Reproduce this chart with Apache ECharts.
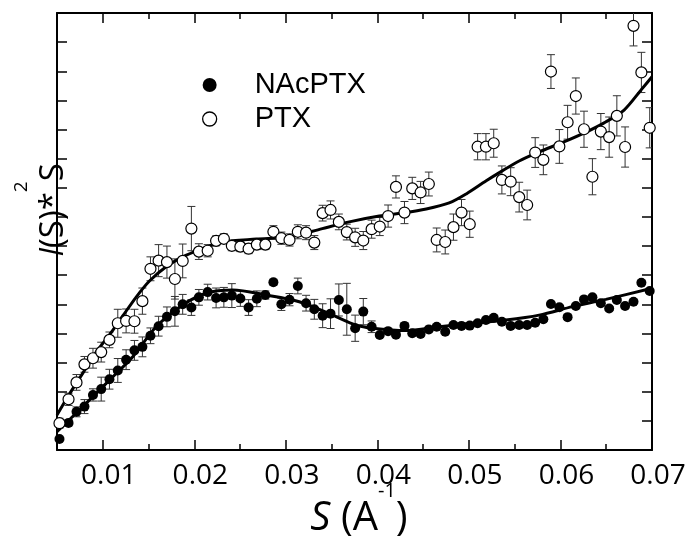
<!DOCTYPE html>
<html><head><meta charset="utf-8">
<script src="https://cdn.jsdelivr.net/npm/echarts@6/dist/echarts.min.js"></script>
<style>html,body{margin:0;padding:0;background:#fff}#c{width:696px;height:542px}</style>
</head><body><div id="c"></div>
<script>
// scattering vector S (1/Å), shared by both data sets
const sValues = [
0.00527,0.00626,0.00713,0.00800,0.00893,0.00983,0.01073,0.01164,0.01255,0.01346,
0.01433,0.01521,0.01610,0.01701,0.01788,0.01873,0.01968,0.02050,0.02146,0.02238,
0.02323,0.02410,0.02503,0.02593,0.02683,0.02776,0.02864,0.02951,0.03040,0.03131,
0.03221,0.03311,0.03402,0.03488,0.03579,0.03666,0.03757,0.03846,0.03937,0.04026,
0.04117,0.04203,0.04296,0.04381,0.04472,0.04562,0.04648,0.04741,0.04831,0.04919,
0.05009,0.05095,0.05186,0.05271,0.05360,0.05456,0.05549,0.05636,0.05724,0.05813,
0.05896,0.05988,0.06078,0.06168,0.06257,0.06349,0.06441,0.06532,0.06616,0.06706,
0.06798,0.06884,0.06975];

const nacY = [
0.38,0.93,1.31,1.49,1.89,2.09,2.43,2.73,3.10,3.42,
3.54,3.92,4.25,4.57,4.76,5.00,4.89,5.24,5.42,5.22,
5.24,5.30,5.20,4.89,5.19,5.32,5.76,5.00,5.16,5.63,
5.04,4.83,4.61,4.68,5.15,4.83,4.18,4.75,4.23,3.95,
4.08,3.96,4.26,4.01,3.98,4.14,4.23,4.06,4.29,4.26,
4.27,4.35,4.46,4.54,4.40,4.26,4.29,4.29,4.37,4.49,
5.01,4.90,4.56,4.94,5.17,5.24,5.04,4.86,5.15,4.94,
5.09,5.74,5.46];

const nacErr = [
0,0.10,0.17,0.24,0.21,0.41,0.34,0.41,0.34,0.34,
0.34,0.27,0.34,0.34,0.51,0.34,0.27,0.27,0.27,0.34,
0.34,0.41,0.27,0.27,0.27,0.14,0.10,0.21,0.21,0.27,
0.27,0.34,0.41,0.51,0.55,0.89,0.45,0.45,0.20,0.07,
0.07,0.07,0.07,0.07,0.07,0.07,0.07,0.07,0.07,0.07,
0.07,0.07,0.07,0.07,0.07,0.07,0.07,0.07,0.07,0.07,
0.07,0.07,0.07,0.07,0.07,0.07,0.07,0.07,0.07,0.07,
0.07,0.07,0.07];

const ptxY = [
0.92,1.74,2.32,2.94,3.15,3.36,3.78,4.35,4.43,4.42,
5.11,6.22,6.50,6.45,5.87,6.49,7.60,6.81,6.84,7.18,
7.25,7.01,6.98,6.91,7.05,7.05,7.49,7.27,7.21,7.49,
7.46,7.12,8.13,8.24,7.83,7.48,7.30,7.19,7.58,7.67,
8.03,9.03,8.15,8.98,8.84,9.13,7.21,7.14,7.65,8.15,
7.75,10.41,10.41,10.53,9.27,9.21,8.68,8.41,10.21,9.96,
12.99,10.42,11.25,12.15,11.01,9.38,10.93,10.74,11.47,10.40,
14.56,12.96,11.06];

const ptxErr = [
0.17,0.21,0.27,0.27,0.34,0.34,0.27,0.48,0.41,0.41,
0.45,0.41,0.55,0.55,0.69,0.58,0.76,0.27,0.21,0.17,
0.17,0.17,0.17,0.17,0.17,0.17,0.21,0.21,0.21,0.24,
0.24,0.24,0.27,0.31,0.27,0.27,0.31,0.31,0.31,0.31,
0.38,0.38,0.38,0.38,0.38,0.41,0.41,0.41,0.45,0.45,
0.45,0.45,0.45,0.48,0.48,0.48,0.51,0.51,0.51,0.51,
0.58,0.58,0.58,0.62,0.62,0.62,0.62,0.69,0.69,0.69,
0.69,0.69,0.69];

// fitted curves
const nacFitS = [0.0050,0.00782,0.01073,0.01328,0.01583,0.01873,0.02129,0.02419,0.02784,0.03147,0.03511,0.03766,0.03948,0.04312,0.04676,0.05039,0.05404,0.05767,0.06131,0.06496,0.0700];
const nacFitY = [0.63,1.49,2.40,3.20,4.23,4.98,5.38,5.49,5.32,5.09,4.63,4.29,4.18,4.10,4.23,4.35,4.46,4.63,4.92,5.17,5.55];
const ptxFitS = [0.0050,0.00636,0.00782,0.00928,0.01073,0.01218,0.01365,0.01510,0.01692,0.01873,0.02056,0.02307,0.02678,0.03038,0.03398,0.03693,0.04021,0.04294,0.04534,0.04785,0.04971,0.05189,0.05364,0.05549,0.05767,0.06008,0.06258,0.06477,0.06695,0.06881,0.0700];
const ptxFitY = [1.20,1.92,2.64,3.36,3.95,4.60,5.25,5.80,6.29,6.63,6.87,7.14,7.24,7.31,7.60,7.83,8.03,8.14,8.27,8.48,8.79,9.24,9.58,9.92,10.23,10.54,10.88,11.23,11.67,12.36,12.81];

const xTickValues = [0.01,0.02,0.03,0.04,0.05,0.06,0.07];
const xTickLabels = ['0.01','0.02','0.03','0.04','0.05','0.06','0.07'];
const seriesNames = ['NAcPTX','PTX'];

const chart = echarts.init(document.getElementById('c'));

function errSeries(ys, errs) {
  return {
    type: 'custom', name: 'err', z: 2, clip: true, silent: true,
    data: sValues.map((s, i) => [s, ys[i] - errs[i], ys[i] + errs[i]]),
    encode: { x: 0, y: [1, 2] },
    renderItem: function (params, api) {
      const x = api.value(0), lo = api.value(1), hi = api.value(2);
      if (hi - lo <= 0) return null;
      const a = api.coord([x, lo]), b = api.coord([x, hi]);
      const w = 4, st = { stroke: '#333', lineWidth: 1 };
      return { type: 'group', children: [
        { type: 'line', shape: { x1: a[0], y1: a[1], x2: b[0], y2: b[1] }, style: st },
        { type: 'line', shape: { x1: a[0] - w, y1: a[1], x2: a[0] + w, y2: a[1] }, style: st },
        { type: 'line', shape: { x1: b[0] - w, y1: b[1], x2: b[0] + w, y2: b[1] }, style: st }
      ]};
    }
  };
}

const axisLineStyle = { color: '#000', width: 2 };
const tickStyle = { color: '#000', width: 1.5 };
function xAx(pos, major) {
  const o = { type: 'value', min: 0.005, max: 0.07, position: pos,
    axisLine: { show: major, onZero: false, lineStyle: axisLineStyle },
    splitLine: { show: false },
    axisTick: { show: true, inside: true, length: major ? 10 : 6, lineStyle: tickStyle },
    axisLabel: { show: false } };
  if (major) {
    o.axisTick.customValues = xTickValues;
    if (pos === 'bottom') {
      o.axisLabel = { show: true, customValues: xTickValues,
        formatter: v => xTickLabels[xTickValues.findIndex(t => Math.abs(t - v) < 1e-9)] || '',
        fontFamily: 'Open Sans', fontSize: 28, color: '#000', margin: 12, padding: [0, 0, 0, 12] };
    }
  } else {
    o.interval = 0.005;
  }
  return o;
}
function yAx(pos) {
  return { type: 'value', min: 0, max: 15, interval: 1, position: pos,
    axisLine: { show: true, onZero: false, lineStyle: axisLineStyle },
    axisTick: { show: true, inside: true, length: 10, lineStyle: tickStyle },
    axisLabel: { show: false }, splitLine: { show: false } };
}

const mainFont = 'Open Sans';
chart.setOption({
  animation: false,
  backgroundColor: '#fff',
  grid: { left: 57, right: 44, top: 13, bottom: 92 },
  xAxis: [xAx('bottom', true), xAx('bottom', false), xAx('top', true), xAx('top', false)],
  yAxis: [yAx('left'), yAx('right')],
  legend: {
    orient: 'vertical', left: 202, top: 68, padding: 0, itemGap: 0,
    itemWidth: 80, itemHeight: 14, selectedMode: false,
    textStyle: { fontFamily: 'Liberation Sans', fontSize: 29, color: '#000', lineHeight: 34 },
    data: [
      { name: seriesNames[0], icon: 'circle', itemStyle: { color: '#000' } },
      { name: seriesNames[1], icon: 'circle', itemStyle: { color: '#fff', borderColor: '#000', borderWidth: 1.3 } }
    ]
  },
  graphic: [
    { type: 'text', x: 359, y: 519, silent: true,
      style: { text: '{i|S}{n| (A}{sup|-1}{n|)}', align: 'center', verticalAlign: 'middle',
        rich: {
          i: { fontFamily: mainFont, fontStyle: 'italic', fontSize: 40, lineHeight: 76, fill: '#000' },
          n: { fontFamily: mainFont, fontSize: 40, lineHeight: 76, fill: '#000' },
          sup: { fontFamily: mainFont, fontSize: 20, lineHeight: 20, verticalAlign: 'top', fill: '#000' }
        } } },
    { type: 'text', x: 54, y: 210, rotation: Math.PI / 2, silent: true,
      style: { text: '{i|I}{n|(S)*}{sup|2}{n|S}', align: 'center', verticalAlign: 'middle',
        rich: {
          i: { fontFamily: mainFont, fontStyle: 'italic', fontSize: 33, lineHeight: 84, fill: '#000' },
          n: { fontFamily: mainFont, fontSize: 33, lineHeight: 84, fill: '#000' },
          sup: { fontFamily: mainFont, fontSize: 19, lineHeight: 19, verticalAlign: 'top', fill: '#000' }
        } } }
  ],
  series: [
    errSeries(ptxY, ptxErr),
    errSeries(nacY, nacErr),
    { type: 'line', name: 'fitPTX', z: 3, smooth: 0.3, symbol: 'none', silent: true,
      data: ptxFitS.map((s, i) => [s, ptxFitY[i]]), lineStyle: { color: '#000', width: 3 } },
    { type: 'line', name: 'fitNAc', z: 3, smooth: 0.3, symbol: 'none', silent: true,
      data: nacFitS.map((s, i) => [s, nacFitY[i]]), lineStyle: { color: '#000', width: 3 } },
    { type: 'scatter', name: seriesNames[0], z: 4, symbol: 'circle', symbolSize: 10,
      data: sValues.map((s, i) => [s, nacY[i]]), itemStyle: { color: '#000', opacity: 1 } },
    { type: 'scatter', name: seriesNames[1], z: 5, symbol: 'circle', symbolSize: 11,
      data: sValues.map((s, i) => [s, ptxY[i]]), itemStyle: { color: '#fff', borderColor: '#000', borderWidth: 1.2, opacity: 1 } }
  ]
});
</script>
</body></html>
